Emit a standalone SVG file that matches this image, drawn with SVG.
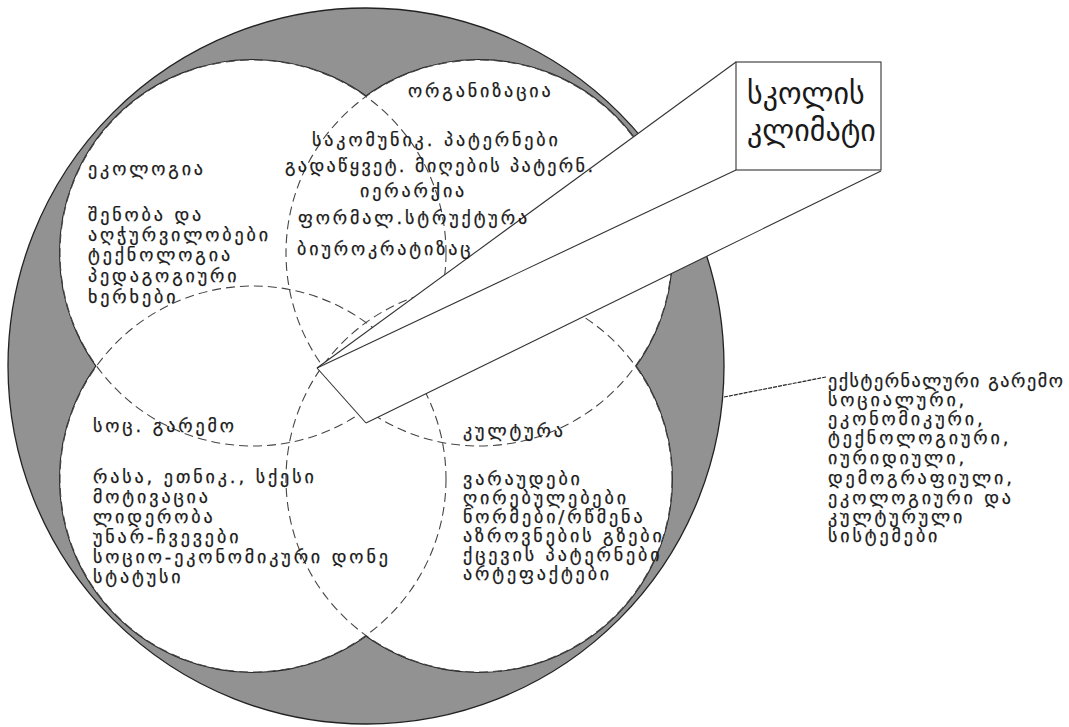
<svg xmlns="http://www.w3.org/2000/svg" width="1069" height="727" viewBox="0 0 1069 727">
<defs>
<style>
.t{font-family:"DejaVu Sans","Noto Sans",sans-serif;font-size:18px;fill:#1a1a1a;stroke:#1a1a1a;stroke-width:0.25;letter-spacing:2.9px}
.big{font-family:"DejaVu Sans","Noto Sans",sans-serif;font-size:30px;fill:#1a1a1a}
.base{fill:#fff;stroke:#222;stroke-width:2}
.cover{fill:#fff;stroke:none}
.dash{fill:none;stroke:#444;stroke-width:1.1;stroke-dasharray:9 5}
.edge{fill:none;stroke:#333;stroke-width:1.1}
</style>
<circle id="cTL" cx="253" cy="253" r="193"/>
<circle id="cTR" cx="479" cy="253" r="193"/>
<circle id="cBL" cx="253" cy="479" r="193"/>
<circle id="cBR" cx="479" cy="479" r="193"/>
</defs>
<rect width="1069" height="727" fill="#fff"/>
<g id="environment">
<circle cx="366" cy="366" r="358" fill="#929292" stroke="#222" stroke-width="1.3"/>
</g>
<g id="venn-shapes">
<use href="#cTL" class="base"/>
<use href="#cTR" class="base"/>
<use href="#cBL" class="base"/>
<use href="#cBR" class="base"/>
<use href="#cTL" class="cover"/>
<use href="#cTR" class="cover"/>
<use href="#cBL" class="cover"/>
<use href="#cBR" class="cover"/>
<use href="#cTL" class="dash"/>
<use href="#cTR" class="dash"/>
<use href="#cBL" class="dash"/>
<use href="#cBR" class="dash"/>
</g>
<g id="school-climate">
<polygon points="736,62 881,62 881,171 366,423 317,368" fill="#fff"/>
<line class="edge" x1="736" y1="62" x2="317" y2="368"/>
<line class="edge" x1="736" y1="170" x2="317" y2="368"/>
<line class="edge" x1="881" y1="171" x2="366" y2="423"/>
<line class="edge" x1="317" y1="368" x2="366" y2="423"/>
<rect class="edge" x="736" y="62" width="145" height="108" fill="#fff"/>
<text class="big" x="747" y="104">სკოლის</text>
<text class="big" x="747" y="141">კლიმატი</text>
</g>
<g id="ecology">
<text class="t" x="88" y="175">ეკოლოგია</text>
<text class="t" x="88" y="221">შენობა და</text>
<text class="t" x="88" y="241">აღჭურვილობები</text>
<text class="t" x="88" y="261">ტექნოლოგია</text>
<text class="t" x="88" y="282">პედაგოგიური</text>
<text class="t" x="88" y="303">ხერხები</text>
</g>
<g id="organization">
<text class="t" x="408" y="97">ორგანიზაცია</text>
<text class="t" x="312" y="146">საკომუნიკ. პატერნები</text>
<text class="t" x="285" y="172" style="letter-spacing:2.4px">გადაწყვეტ. მიღების პატერნ.</text>
<text class="t" x="360" y="197">იერარქია</text>
<text class="t" x="298" y="224">ფორმალ.სტრუქტურა</text>
<text class="t" x="297" y="255">ბიუროკრატიზაც</text>
</g>
<g id="social-environment">
<text class="t" x="93" y="432">სოც. გარემო</text>
<text class="t" x="93" y="483">რასა, ეთნიკ., სქესი</text>
<text class="t" x="93" y="503">მოტივაცია</text>
<text class="t" x="93" y="523">ლიდერობა</text>
<text class="t" x="93" y="543">უნარ-ჩვევები</text>
<text class="t" x="93" y="563">სოციო-ეკონომიკური დონე</text>
<text class="t" x="93" y="583">სტატუსი</text>
</g>
<g id="culture">
<text class="t" x="463" y="437">კულტურა</text>
<text class="t" x="463" y="485">ვარაუდები</text>
<text class="t" x="463" y="504">ღირებულებები</text>
<text class="t" x="463" y="523">ნორმები/რწმენა</text>
<text class="t" x="463" y="542">აზროვნების გზები</text>
<text class="t" x="463" y="561">ქცევის პატერნები</text>
<text class="t" x="463" y="580">არტეფაქტები</text>
</g>
<g id="connectors">
<line x1="724" y1="397" x2="826" y2="377" stroke="#222" stroke-width="1.2" stroke-dasharray="4 1"/>
</g>
<g id="external-environment">
<text class="t" x="828" y="387" style="letter-spacing:1.6px">ექსტერნალური გარემო</text>
<text class="t" x="828" y="406">სოციალური,</text>
<text class="t" x="828" y="425">ეკონომიკური,</text>
<text class="t" x="828" y="444">ტექნოლოგიური,</text>
<text class="t" x="828" y="464">იურიდიული,</text>
<text class="t" x="828" y="484">დემოგრაფიული,</text>
<text class="t" x="828" y="504">ეკოლოგიური და</text>
<text class="t" x="828" y="523">კულტურული</text>
<text class="t" x="828" y="542">სისტემები</text>
</g>
</svg>
